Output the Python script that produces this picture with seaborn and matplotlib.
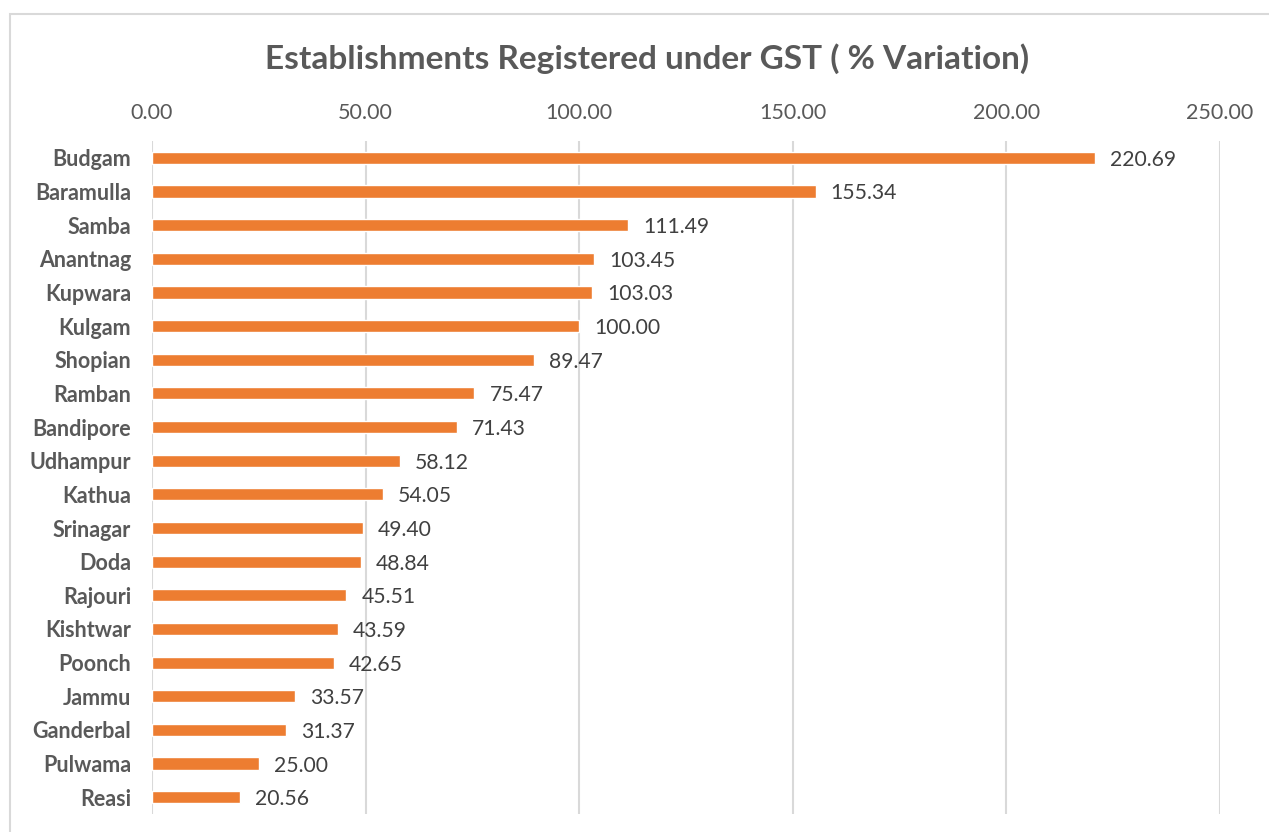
import pandas as pd
import matplotlib.pyplot as plt
import seaborn as sns
from matplotlib.patches import Rectangle

districts = ['Budgam', 'Baramulla', 'Samba', 'Anantnag', 'Kupwara', 'Kulgam', 'Shopian',
             'Ramban', 'Bandipore', 'Udhampur', 'Kathua', 'Srinagar', 'Doda', 'Rajouri',
             'Kishtwar', 'Poonch', 'Jammu', 'Ganderbal', 'Pulwama', 'Reasi']
variation = [220.69, 155.34, 111.49, 103.45, 103.03, 100.00, 89.47, 75.47, 71.43, 58.12,
             54.05, 49.40, 48.84, 45.51, 43.59, 42.65, 33.57, 31.37, 25.00, 20.56]
ticks = [0, 50, 100, 150, 200, 250]

df = pd.DataFrame({'district': districts, 'variation': variation})

sns.set_style("white")
plt.rcParams['font.family'] = ['Lato', 'DejaVu Sans']

fig = plt.figure(figsize=(12.69, 8.32), dpi=100)
ax = fig.add_axes([0.1198, 0.0216, 0.8416, 0.8089])

sns.barplot(data=df, x='variation', y='district', color='#ED7D31', width=0.36,
            saturation=1, ax=ax, zorder=3)

ax.set_xlim(0, 250)
ax.set_xticks(ticks)
ax.set_xticklabels([f'{t:.2f}' for t in ticks], fontsize=15.5, color='#595959')
ax.xaxis.tick_top()
ax.tick_params(axis='x', length=0, pad=13)
ax.tick_params(axis='y', length=0, pad=15)
for lbl in ax.get_yticklabels():
    lbl.set_fontweight('bold')
    lbl.set_fontsize(15.5)
    lbl.set_color('#595959')
ax.set_xlabel('')
ax.set_ylabel('')
ax.grid(axis='x', color='#D9D9D9', linewidth=1.5, zorder=0)
for s in ax.spines.values():
    s.set_visible(False)

# value labels at bar ends
for i, v in enumerate(variation):
    ax.text(v + 3.5, i, f'{v:.2f}', va='center_baseline', ha='left', fontsize=15.2,
            color='#404040')

fig.text(0.51, 0.93, 'Establishments Registered under GST ( % Variation)', ha='center',
         va='center', fontsize=24, fontweight='bold', color='#595959')

fig.patches.append(Rectangle((0.008, -0.1), 1.1, 1.083, transform=fig.transFigure,
                             fill=False, edgecolor='#D9D9D9', linewidth=1.5))

plt.savefig('out.png', dpi=100)
